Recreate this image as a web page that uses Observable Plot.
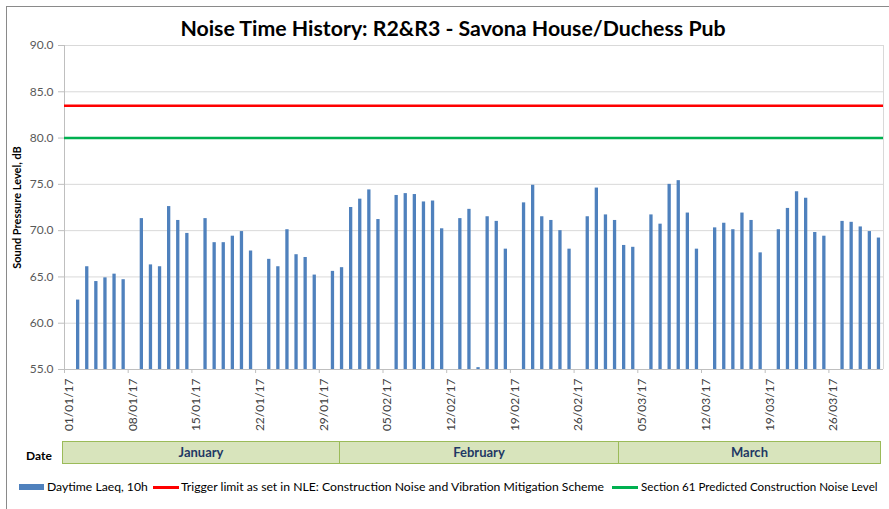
<!DOCTYPE html>
<html><head><meta charset="utf-8">
<script src="https://cdn.jsdelivr.net/npm/d3@7"></script>
<script src="https://cdn.jsdelivr.net/npm/@observablehq/plot@0.6"></script>
<style>
body{margin:0;background:#fff;font-family:Lato,"Open Sans",sans-serif;}
#wrap{position:relative;width:889px;height:509px;overflow:hidden;background:#fff;}
#border{position:absolute;left:6px;top:6px;width:1000px;height:1000px;border-left:1.5px solid #8a8a8a;border-top:1.5px solid #8a8a8a;}
#title{position:absolute;top:15px;left:17px;width:872px;text-align:center;font-weight:bold;font-size:21.3px;color:#000;white-space:nowrap;}
#chart{position:absolute;left:0;top:0;}
#date{position:absolute;left:26px;top:448px;font-weight:bold;font-size:12px;color:#000;}
#months{position:absolute;left:63px;top:441px;display:flex;}
.m{box-sizing:border-box;height:23px;background:#d8e4bc;border:1px solid #9bbb59;margin-left:-1px;text-align:center;line-height:21px;font-weight:bold;font-size:13px;color:#1f3864;}
.lg{position:absolute;top:479px;font-size:12.2px;color:#000;white-space:nowrap;}
.sw{position:absolute;}
</style></head>
<body>
<div id="wrap">
  <div id="border"></div>
  <div id="title"></div>
  <div id="chart"></div>
  <div id="date">Date</div>
  <div id="months"></div>
  <div id="legend"></div>
</div>
<script>
// ---- data ----
const titleText = "Noise Time History: R2&R3 - Savona House/Duchess Pub";
const yLabel = "Sound Pressure Level, dB";
const janValues = [null,62.5,66.1,64.5,64.9,65.3,64.7, null,71.3,66.3,66.1,72.6,71.1,69.7, null,71.3,68.7,68.7,69.4,69.9,67.8, null,66.9,66.1,70.1,67.4,67.1,65.2, null,65.6,66.0];
const febValues = [72.5,73.4,74.4,71.2, null,73.8,74.0,73.9,73.1,73.2,70.2, null,71.3,72.3,55.2,71.5,71.0,68.0, null,73.0,74.9,71.5,71.1,70.0,68.0, null,71.5,74.6];
const marValues = [71.7,71.1,68.4,68.2, null,71.7,70.7,75.0,75.4,71.9,68.0, null,70.3,70.8,70.1,71.9,71.1,67.6, null,70.1,72.4,74.2,73.5,69.8,69.4, null,71.0,70.9,70.4,69.9,69.2];
const triggerLimit = [83.5];
const section61Level = [80];
const yTicks = [55,60,65,70,75,80,85,90];
const xTickLabels = ["01/01/17","08/01/17","15/01/17","22/01/17","29/01/17","05/02/17","12/02/17","19/02/17","26/02/17","05/03/17","12/03/17","19/03/17","26/03/17"];
const monthNames = ["January","February","March"];
const legendLabels = ["Daytime Laeq, 10h","Trigger limit as set in NLE: Construction Noise and Vibration Mitigation Scheme","Section 61 Predicted Construction Noise Level"];

// ---- build table ----
const monthSeries = [janValues, febValues, marValues];
const data = [];
monthSeries.forEach((arr, m) => arr.forEach((v, i) => {
  data.push({date: new Date(Date.UTC(2017, m, i + 1)), value: v});
}));
const bars = data.filter(d => d.value != null);
const parse = d3.utcParse("%d/%m/%y");
const tickDates = xTickLabels.map(parse);
const xStart = new Date(Date.UTC(2017,0,1)), xEnd = new Date(Date.UTC(2017,3,1));

document.getElementById("title").textContent = titleText;

const chart = Plot.plot({
  width: 889, height: 440,
  marginTop: 45, marginBottom: 71, marginLeft: 64, marginRight: 6,
  style: {fontFamily: "Lato, 'Open Sans', sans-serif", fontSize: "12px", background: "transparent", overflow: "visible"},
  x: {type: "utc", domain: [xStart, xEnd]},
  y: {domain: [55, 90]},
  marks: [
    Plot.ruleY(yTicks, {stroke: "#d9d9d9", strokeWidth: 1}),
    Plot.ruleX([xEnd], {stroke: "#d9d9d9"}),
    Plot.rectY(bars, {x: "date", interval: "day", y1: 55, y2: "value", fill: "#4f81bd", insetLeft: 2.9, insetRight: 2.9}),
    Plot.ruleY([55], {stroke: "#bfbfbf"}),
    Plot.ruleX([xStart], {stroke: "#bfbfbf"}),
    Plot.ruleY(triggerLimit, {stroke: "#ff0000", strokeWidth: 2.5}),
    Plot.ruleY(section61Level, {stroke: "#00b050", strokeWidth: 2.5}),
    Plot.axisY({ticks: yTicks, tickFormat: d => d.toFixed(1), tickSize: 6, tickPadding: 5, stroke: "#bfbfbf", fill: "#595959", fontSize: 12, label: null}),
    Plot.axisX({ticks: tickDates, tickSize: 4, stroke: "#bfbfbf", tickFormat: () => "", label: null}),
    Plot.axisX({ticks: tickDates, tickSize: 0, tickPadding: 9, tickRotate: -90, dx: 4.5, tickFormat: d3.utcFormat("%d/%m/%y"), fill: "#404040", fontSize: 12, label: null}),
    Plot.text([yLabel], {frameAnchor: "left", textAnchor: "middle", rotate: -90, dx: -47, fontWeight: "bold", fontSize: 11, fill: "#000"})
  ]
});
document.getElementById("chart").appendChild(chart);

// month band
const widths = [278, 280, 263];
const mdiv = document.getElementById("months");
monthNames.forEach((n, i) => {
  const d = document.createElement("div");
  d.className = "m"; d.style.width = widths[i] + "px"; d.textContent = n;
  mdiv.appendChild(d);
});

// legend
const lg = document.getElementById("legend");
const items = [
  {type: "rect", color: "#4f81bd", sx: 19, tx: 47, fs: 12.2},
  {type: "line", color: "#ff0000", sx: 153, tx: 181, fs: 12.2},
  {type: "line", color: "#00b050", sx: 612, tx: 641, fs: 11.6}
];
items.forEach((it, i) => {
  const s = document.createElement("div");
  s.className = "sw";
  s.style.left = it.sx + "px";
  s.style.width = (it.type === "rect" ? 25 : 26) + "px";
  s.style.top = (it.type === "rect" ? 484 : 486) + "px";
  s.style.height = (it.type === "rect" ? 6 : 2.5) + "px";
  s.style.background = it.color;
  lg.appendChild(s);
  const t = document.createElement("div");
  t.className = "lg"; t.style.left = it.tx + "px"; t.style.fontSize = it.fs + "px";
  if (i === 2) t.style.top = "479.5px";
  t.textContent = legendLabels[i];
  lg.appendChild(t);
});
</script>
</body></html>
